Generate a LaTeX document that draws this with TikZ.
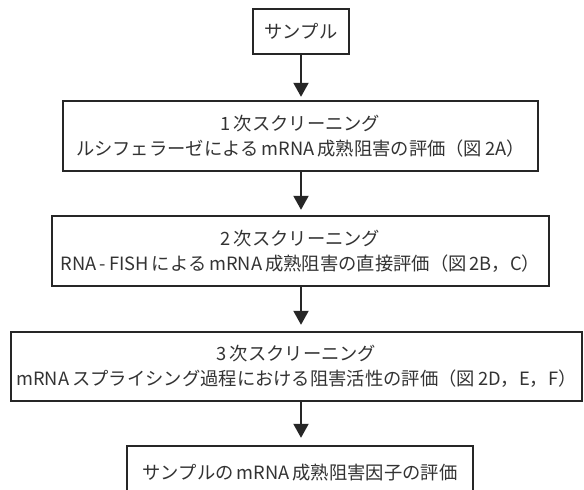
\documentclass[tikz,border=0pt]{standalone}
\usepackage{fontspec}
\setmainfont{Noto Sans CJK JP}
\usetikzlibrary{arrows.meta}
\tikzset{
  flowbox/.style={draw=black!85, line width=2.4pt, inner sep=0pt, align=center,
    font=\fontsize{18.3}{25}\selectfont, text=black!80},
  flowarrow/.style={draw=black!85, line width=2pt, -{Triangle[width=15pt,length=14pt]}}
}
\begin{document}
\begin{tikzpicture}[x=1pt,y=-1pt]
\clip (0,0) rectangle (584,490);
\fill[white] (0,0) rectangle (584,490);
\node[flowbox, minimum width=96pt, minimum height=45pt] (n1) at (301,31.5) {サンプル};
\node[flowbox, minimum width=475pt, minimum height=70pt] (n2) at (300.5,136) {1\,次スクリーニング\\ルシフェラーゼによる\,mRNA\,成熟阻害の評価（図\,2A）};
\node[flowbox, minimum width=497pt, minimum height=70pt] (n3) at (300.5,251) {2\,次スクリーニング\\RNA\,-\,FISH\,による\,mRNA\,成熟阻害の直接評価（図\,2B，C）};
\node[flowbox, minimum width=571pt, minimum height=69pt] (n4) at (296.5,366.5) {3\,次スクリーニング\\mRNA\,スプライシング過程における阻害活性の評価（図\,2D，E，F）};
\node[flowbox, minimum width=346pt, minimum height=54pt] (n5) at (300,473) {サンプルの\,mRNA\,成熟阻害因子の評価};
\draw[flowarrow, shorten >=3pt] (n1.south -| 301,0) -- (n2.north -| 301,0);
\draw[flowarrow, shorten >=5pt] (n2.south -| 301,0) -- (n3.north -| 301,0);
\draw[flowarrow, shorten >=6pt] (n3.south -| 301,0) -- (n4.north -| 301,0);
\draw[flowarrow, shorten >=7pt] (n4.south -| 301,0) -- (n5.north -| 301,0);
\end{tikzpicture}
\end{document}
